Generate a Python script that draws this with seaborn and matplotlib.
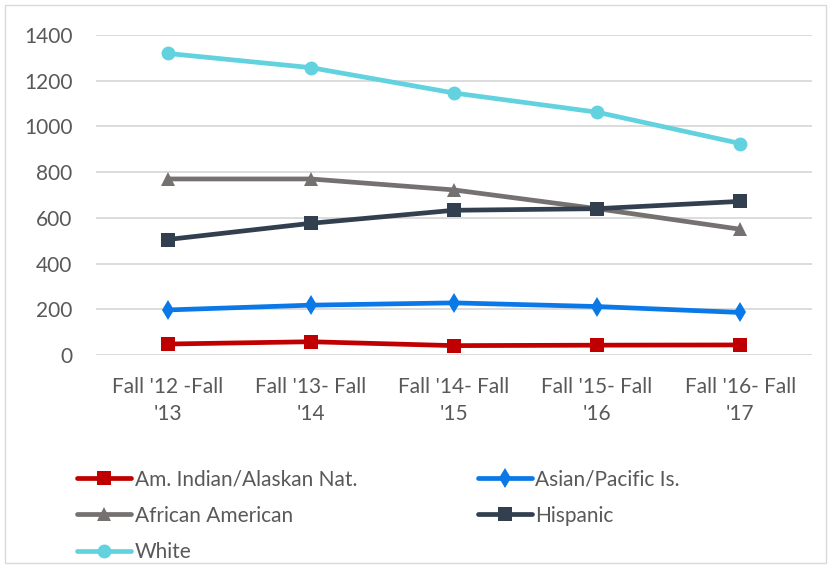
import pandas as pd
import numpy as np
import matplotlib.pyplot as plt
import seaborn as sns
from matplotlib.patches import Rectangle

# --- data ---
periods = ["Fall '12 -Fall\n'13", "Fall '13- Fall\n'14", "Fall '14- Fall\n'15",
           "Fall '15- Fall\n'16", "Fall '16- Fall\n'17"]
am_indian = [48, 58, 41, 43, 44]
asian_pacific = [197, 218, 228, 212, 186]
african_american = [770, 770, 722, 640, 550]
hispanic = [505, 576, 633, 640, 672]
white = [1319, 1257, 1146, 1062, 925]

groups = ['Am. Indian/Alaskan Nat.', 'Asian/Pacific Is.', 'African American', 'Hispanic', 'White']
series = [am_indian, asian_pacific, african_american, hispanic, white]

rows = []
for g, vals in zip(groups, series):
    for p, v in zip(periods, vals):
        rows.append({'Period': p, 'Group': g, 'Count': v})
df = pd.DataFrame(rows)

palette = {'Am. Indian/Alaskan Nat.': '#C00000', 'Asian/Pacific Is.': '#0A78E6',
           'African American': '#767171', 'Hispanic': '#323F4F', 'White': '#62D2DF'}
markers = {'Am. Indian/Alaskan Nat.': 's', 'Asian/Pacific Is.': 'd',
           'African American': '^', 'Hispanic': 's', 'White': 'o'}

sns.set_theme(style='white')
plt.rcParams['font.family'] = ['Lato', 'DejaVu Sans']

fig = plt.figure(figsize=(8.31, 5.66), dpi=100)
ax = fig.add_axes([0.1155, 0.3728, 0.8615, 0.5655])

sns.lineplot(data=df, x='Period', y='Count', hue='Group', style='Group',
             palette=palette, markers=markers, dashes=False, linewidth=3.4,
             markersize=10, markeredgewidth=0, sort=False, ax=ax)

ax.set_ylim(0, 1400)
ax.set_yticks(range(0, 1401, 200))
ax.set_xlim(-0.5, 4.5)
ax.set_xlabel('')
ax.set_ylabel('')
ax.yaxis.grid(True, color='#D9D9D9', linewidth=1.3)
ax.set_axisbelow(True)
for s in ['top', 'right', 'left', 'bottom']:
    ax.spines[s].set_visible(False)
ax.tick_params(axis='both', length=0, labelsize=15, colors='#595959')
ax.tick_params(axis='y', pad=17)
ax.tick_params(axis='x', pad=16)
for lbl in ax.get_xticklabels():
    lbl.set_linespacing(1.45)

handles, labels = ax.get_legend_handles_labels()
ax.get_legend().remove()
order = [0, 2, 4, 1, 3]
leg = fig.legend([handles[i] for i in order], [labels[i] for i in order],
                 ncol=2, loc='upper left', bbox_to_anchor=(0.083, 0.186),
                 frameon=False, fontsize=15, handlelength=2.6, handletextpad=0.15,
                 columnspacing=5.8, labelspacing=0.79, borderaxespad=0)
for t in leg.get_texts():
    t.set_color('#595959')

# outer chart border
fig.patches.append(Rectangle((0.006, 0.006), 0.988, 0.986, transform=fig.transFigure,
                             fill=False, edgecolor='#D9D9D9', linewidth=1))

fig.savefig('out.png', dpi=100)
